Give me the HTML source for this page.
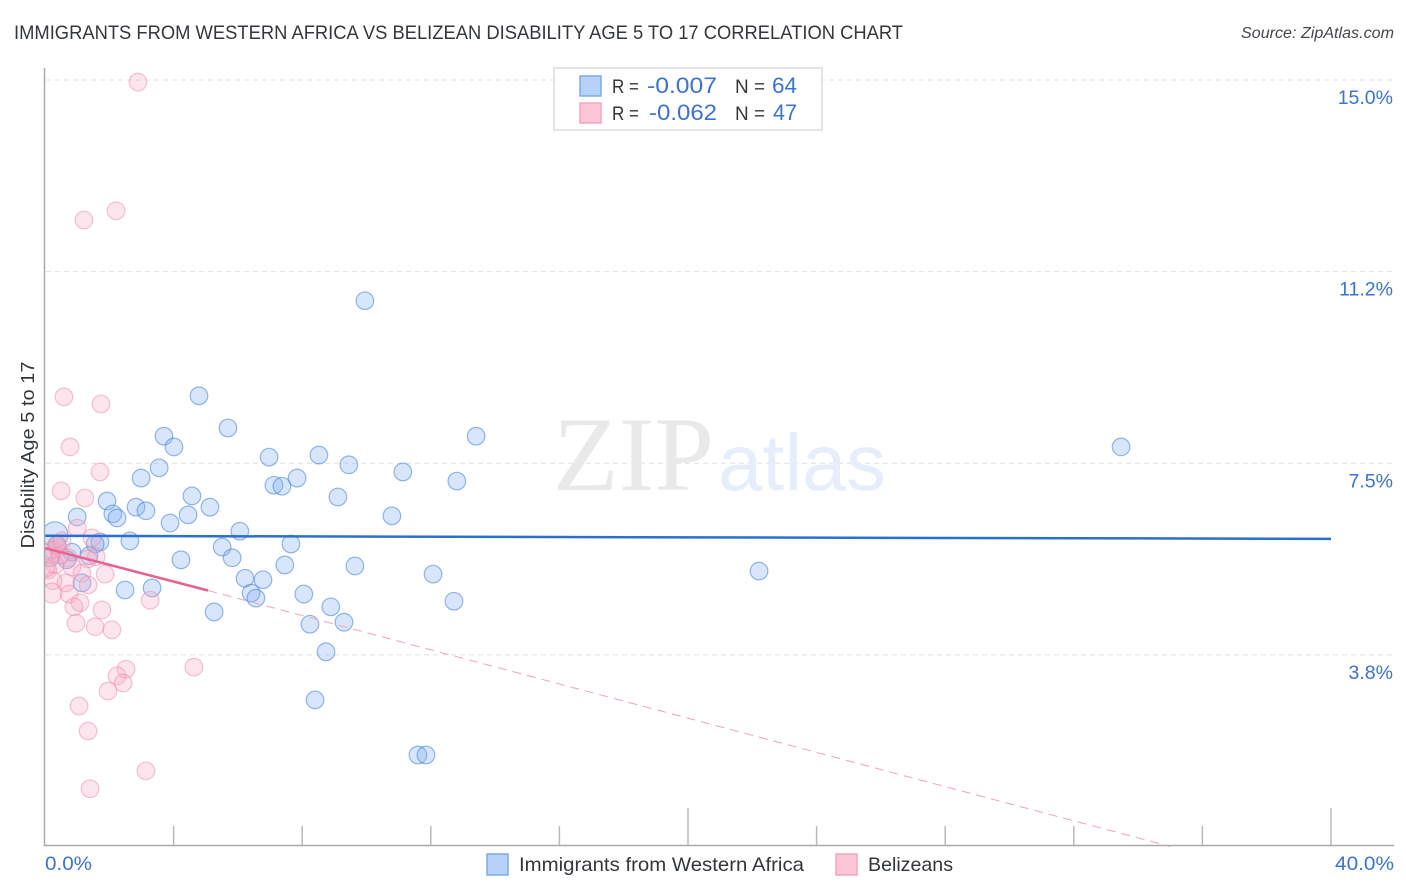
<!DOCTYPE html>
<html>
<head>
<meta charset="utf-8">
<title>Immigrants from Western Africa vs Belizean Disability Age 5 to 17 Correlation Chart</title>
<style>
html,body{margin:0;padding:0;background:#fff;}
svg{display:block;font-family:"Liberation Sans",sans-serif;}
</style>
</head>
<body>
<svg id="chart" width="1406" height="892" viewBox="0 0 1406 892" xmlns="http://www.w3.org/2000/svg">
  <defs><clipPath id="plot-clip"><rect x="45" y="60" width="1350" height="785"></rect></clipPath></defs>
  <text x="14" y="39" font-size="19" fill="#33373b" textLength="889" lengthAdjust="spacingAndGlyphs">IMMIGRANTS FROM WESTERN AFRICA VS BELIZEAN DISABILITY AGE 5 TO 17 CORRELATION CHART</text>
  <text x="1394" y="38" font-size="15.5" font-style="italic" fill="#44484c" text-anchor="end" textLength="153" lengthAdjust="spacingAndGlyphs">Source: ZipAtlas.com</text>

  <g id="grid"></g>

  <g>
    <text x="553" y="490" font-family="'Liberation Serif',serif" font-size="106" fill="#e9e9e9" textLength="161" lengthAdjust="spacingAndGlyphs">ZIP</text>
    <text x="718" y="490" font-size="80" fill="#e6eefb" textLength="168" lengthAdjust="spacingAndGlyphs">atlas</text>
  </g>

  <g id="points-blue" clip-path="url(#plot-clip)"></g>
  <g id="points-pink" clip-path="url(#plot-clip)"></g>
  <g id="trends"></g>

  <line x1="44.5" y1="68" x2="44.5" y2="846" stroke="#aaaaaa" stroke-width="1.5"></line>
  <line x1="44" y1="845.5" x2="1394" y2="845.5" stroke="#aaaaaa" stroke-width="1.5"></line>
  <g id="x-ticks"></g>
  <g id="y-labels"></g>

  <text x="45" y="870" font-size="19.5" fill="#3b72d3" textLength="47" lengthAdjust="spacingAndGlyphs">0.0%</text>
  <text x="1335" y="870" font-size="19.5" fill="#3b72d3" textLength="59" lengthAdjust="spacingAndGlyphs">40.0%</text>
  <text transform="translate(34,455) rotate(-90)" font-size="18.5" fill="#33373b" text-anchor="middle" textLength="187" lengthAdjust="spacingAndGlyphs">Disability Age 5 to 17</text>

  <g>
    <rect x="554" y="68" width="268" height="62" fill="#fff" stroke="#dcdcdc" stroke-width="1.5"></rect>
    <rect x="580" y="76" width="21" height="20" fill="#b6d2f8" stroke="#7fabe8" stroke-width="1.5"></rect>
    <rect x="580" y="103" width="21" height="20" fill="#fcc6d7" stroke="#f2a6c0" stroke-width="1.5"></rect>
    <text x="612" y="93" font-size="19.5" fill="#33373b" textLength="27" lengthAdjust="spacingAndGlyphs">R =</text>
    <text x="647" y="93" font-size="22" fill="#3b72d3" textLength="70" lengthAdjust="spacingAndGlyphs">-0.007</text>
    <text x="735" y="93" font-size="19.5" fill="#33373b" textLength="30" lengthAdjust="spacingAndGlyphs">N =</text>
    <text x="772" y="93" font-size="22" fill="#3b72d3" textLength="25" lengthAdjust="spacingAndGlyphs">64</text>
    <text x="612" y="120" font-size="19.5" fill="#33373b" textLength="27" lengthAdjust="spacingAndGlyphs">R =</text>
    <text x="649" y="120" font-size="22" fill="#3b72d3" textLength="68" lengthAdjust="spacingAndGlyphs">-0.062</text>
    <text x="735" y="120" font-size="19.5" fill="#33373b" textLength="30" lengthAdjust="spacingAndGlyphs">N =</text>
    <text x="773" y="120" font-size="22" fill="#3b72d3" textLength="24" lengthAdjust="spacingAndGlyphs">47</text>
  </g>

  <g>
    <rect x="487" y="854" width="21" height="21" fill="#b6d2f8" stroke="#7fabe8" stroke-width="1.5"></rect>
    <text x="519" y="871" font-size="19.5" fill="#33373b" textLength="285" lengthAdjust="spacingAndGlyphs">Immigrants from Western Africa</text>
    <rect x="836" y="854" width="21" height="21" fill="#fcc6d7" stroke="#f2a6c0" stroke-width="1.5"></rect>
    <text x="868" y="871" font-size="19.5" fill="#33373b" textLength="85" lengthAdjust="spacingAndGlyphs">Belizeans</text>
  </g>
</svg>

<script>
const yTickValues = [15, 11.25, 7.5, 3.75];
const yTickLabels = ["15.0%", "11.2%", "7.5%", "3.8%"];
const xTickValues = [4, 8, 12, 16, 20, 24, 28, 32, 36, 40];
const xMajorTicks = [20, 40];

const blueX = [9.95,4.79,5.69,3.70,4.01,13.41,33.47,6.97,8.52,9.45,3.55,7.84,11.13,2.99,7.12,7.37,12.81,4.57,9.11,1.93,2.83,3.14,5.13,4.45,2.11,2.24,1.00,3.89,10.79,6.06,0.31,2.64,1.71,1.56,7.65,5.51,0.37,0.84,1.37,5.82,4.23,7.46,9.64,22.21,12.07,6.22,6.78,2.49,3.33,1.15,6.41,6.56,8.05,12.72,8.89,5.26,8.24,9.30,8.74,8.40,11.60,11.85,0.68,0.16];
const blueY = [10.68,8.82,8.19,8.03,7.82,8.03,7.82,7.62,7.66,7.47,7.41,7.21,7.33,7.21,7.07,7.05,7.15,6.86,6.84,6.76,6.64,6.57,6.64,6.49,6.51,6.43,6.45,6.33,6.47,6.17,6.10,5.98,5.96,5.92,5.92,5.86,5.90,5.76,5.69,5.65,5.61,5.51,5.49,5.39,5.33,5.25,5.22,5.02,5.06,5.16,4.96,4.86,4.94,4.80,4.69,4.59,4.35,4.39,3.81,2.87,1.79,1.79,5.61,5.65];
const blueHeavyIndexes = [30];

const pinkX = [2.89,2.21,1.21,0.59,1.74,0.78,1.71,0.50,1.24,1.00,1.46,0.40,0.16,1.59,1.34,0.72,0.84,0.31,0.09,1.87,1.15,0.65,0.25,1.34,0.22,0.75,1.09,3.27,1.77,0.90,0.96,1.56,2.08,2.52,2.24,4.63,2.43,1.96,1.06,1.34,3.14,1.40,0.03,0.22,0.47,0.37,0.53];
const pinkY = [14.96,12.44,12.26,8.80,8.66,7.82,7.33,6.96,6.82,6.23,6.04,5.84,5.70,5.67,5.63,5.65,5.47,5.51,5.41,5.33,5.35,5.16,5.20,5.12,4.96,4.94,4.77,4.82,4.63,4.69,4.37,4.30,4.24,3.47,3.34,3.51,3.20,3.04,2.75,2.26,1.48,1.13,5.45,5.80,5.70,5.90,5.98];
const pinkHeavyIndexes = [24];

const blueTrendX = [0, 40];
const blueTrendY = [6.08, 6.02];
const pinkTrendX = [0, 5.07];
const pinkTrendY = [5.84, 5.01];
const pinkDashX = [5.07, 35];
const pinkDashY = [5.01, 0];

const NS = "http://www.w3.org/2000/svg";
function xScale(v) { return 45 + v * 32.15; }
function yScale(v) { return 80 + (15 - v) * 51.1; }
function make(tag, attrs, parent) {
  const el = document.createElementNS(NS, tag);
  Object.keys(attrs).forEach(function (k) { el.setAttribute(k, attrs[k]); });
  parent.appendChild(el);
  return el;
}

const grid = document.getElementById("grid");
const yLabels = document.getElementById("y-labels");
yTickValues.forEach(function (v, i) {
  const line = make("line", { x1: 46, x2: 1394, y1: yScale(v), y2: yScale(v), stroke: "#e0e0e0", "stroke-width": 1, "stroke-dasharray": "5 4" }, grid);
  
  
  const label = make("text", { x: 1393, y: yScale(v) + 24, "font-size": 19.5, fill: "#3b72d3", "text-anchor": "end" }, yLabels);
  label.textContent = yTickLabels[i];
  
  
});

const xTicks = document.getElementById("x-ticks");
xTickValues.forEach(function (v) {
  const major = xMajorTicks.indexOf(v) >= 0;
  const tick = make("line", { x1: xScale(v), x2: xScale(v), y1: major ? 808 : 826, y2: 845, stroke: "#bbbbbb", "stroke-width": 1.5 }, xTicks);
  
  
});

function drawPoints(groupId, xs, ys, heavy, fill, stroke, baseR, heavyR, name) {
  const g = document.getElementById(groupId);
  xs.forEach(function (x, i) {
    const c = make("circle", { cx: xScale(x), cy: yScale(ys[i]), r: heavy.indexOf(i) >= 0 ? heavyR : baseR, fill: fill, stroke: stroke, "stroke-width": 1.2 }, g);
    
    
  });
}
drawPoints("points-blue", blueX, blueY, blueHeavyIndexes, "rgba(130,178,240,0.32)", "rgba(58,120,214,0.52)", 8.8, 13, "immigrants-point");
drawPoints("points-pink", pinkX, pinkY, pinkHeavyIndexes, "rgba(248,170,195,0.30)", "rgba(238,140,172,0.52)", 8.8, 10, "belizeans-point");

const trends = document.getElementById("trends");
const dashLine = make("line", { x1: xScale(pinkDashX[0]), y1: yScale(pinkDashY[0]), x2: xScale(pinkDashX[1]), y2: yScale(pinkDashY[1]), stroke: "#f0a3bd", "stroke-width": 1, "stroke-dasharray": "9 6" }, trends);


const blueLine = make("line", { x1: xScale(blueTrendX[0]), y1: yScale(blueTrendY[0]), x2: xScale(blueTrendX[1]), y2: yScale(blueTrendY[1]), stroke: "#2a6fd2", "stroke-width": 2.5 }, trends);


const pinkLine = make("line", { x1: xScale(pinkTrendX[0]), y1: yScale(pinkTrendY[0]), x2: xScale(pinkTrendX[1]), y2: yScale(pinkTrendY[1]), stroke: "#e8618f", "stroke-width": 2.5 }, trends);


</script>
</body>
</html>
